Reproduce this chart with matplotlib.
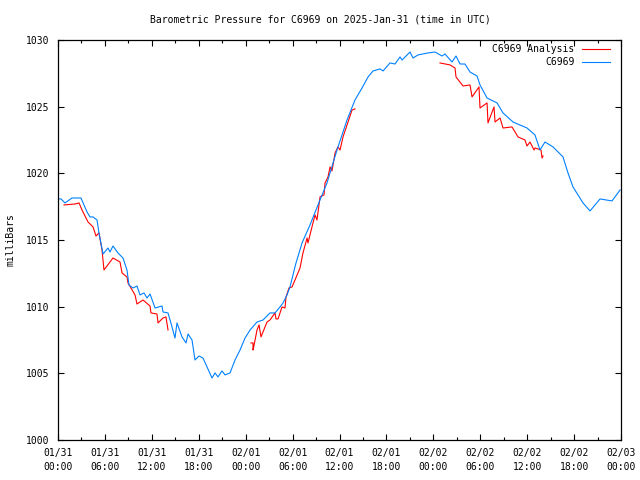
import matplotlib
matplotlib.use("Agg")
import matplotlib.pyplot as plt
from matplotlib.ticker import MultipleLocator

# hours since 2025-01-31 00:00 UTC
obs_hours = [0, 0.38, 0.90, 1.79, 2.94, 3.71, 4.09, 4.48, 4.99, 5.24, 5.76, 6.39, 6.65, 7.03,
             7.67, 8.31, 8.82, 9.08, 9.59, 10.10, 10.49, 11.00, 11.38, 11.77, 12.41, 13.30,
             13.43, 14.07, 14.58, 14.96, 15.22, 15.86, 16.37, 16.63, 17.14, 17.52, 18.03,
             18.54, 19.70, 20.08, 20.46, 20.97, 21.36, 22.00, 22.64, 23.28, 23.92, 24.56,
             25.45, 26.22, 27.11, 27.75, 28.39, 28.78, 29.29, 29.67, 30.40, 31.21, 32.23, 33.25,
             34.40, 35.68, 36.96, 37.98, 38.88, 39.65, 40.29, 41.18, 41.57, 42.46, 43.10,
             43.74, 44.00, 45.02, 45.40, 46.04, 47.32, 48.22, 49.11, 49.49, 50.39, 50.90,
             51.41, 52.05, 52.69, 53.59, 53.97, 54.87, 56.15, 56.91, 58.19, 59.98, 61.00,
             61.64, 62.28, 63.31, 64.58, 65.22, 65.86, 67.14, 68.04, 69.32, 70.85, 71.88]
obs_mb = [1018.08, 1018.08, 1017.78, 1018.15, 1018.15, 1017.10, 1016.73, 1016.73, 1016.50,
          1015.53, 1013.95, 1014.40, 1014.10, 1014.55, 1014.03, 1013.65, 1012.75, 1011.62,
          1011.40, 1011.55, 1010.88, 1011.03, 1010.65, 1010.95, 1009.90, 1010.05, 1009.60,
          1009.53, 1008.48, 1007.65, 1008.78, 1007.73, 1007.28, 1007.95, 1007.50, 1006.00,
          1006.30, 1006.15, 1004.65, 1005.03, 1004.73, 1005.18, 1004.88, 1005.03, 1006.00,
          1006.75, 1007.65, 1008.25, 1008.85, 1009.00, 1009.53, 1009.53, 1009.98, 1010.28,
          1010.88, 1011.48, 1013.20, 1014.78, 1016.13, 1017.63, 1019.28, 1021.75, 1024.00, 1025.50,
          1026.40, 1027.23, 1027.68, 1027.83, 1027.68, 1028.28, 1028.20, 1028.73, 1028.50,
          1029.10, 1028.65, 1028.88, 1029.03, 1029.10, 1028.80, 1028.95, 1028.35, 1028.80,
          1028.20, 1028.20, 1027.60, 1027.30, 1026.63, 1025.65, 1025.28, 1024.53, 1023.85,
          1023.40, 1022.88, 1021.75, 1022.35, 1021.98, 1021.23, 1020.03, 1018.98, 1017.78,
          1017.18, 1018.08, 1017.93, 1018.75]

# analysis segments (gaps between them)
ana1_hours = [0.77, 2.17, 2.69, 3.07, 3.84, 4.48, 4.86, 5.24, 5.63, 5.88, 7.03, 7.93, 8.19,
              8.82, 8.95, 9.85, 10.10, 10.87, 11.77, 11.89, 12.66, 12.79, 13.43, 13.81, 14.07]
ana1_mb = [1017.63, 1017.70, 1017.78, 1017.25, 1016.35, 1015.98, 1015.30, 1015.53, 1014.25,
           1012.75, 1013.65, 1013.35, 1012.53, 1012.23, 1011.78, 1010.88, 1010.20, 1010.50,
           1010.05, 1009.53, 1009.45, 1008.78, 1009.15, 1009.23, 1008.25]
ana2_hours = [24.68, 24.94, 24.94, 25.07, 25.45, 25.71, 25.96, 26.73, 27.11, 27.75, 27.88,
              28.14, 28.65, 29.03, 29.16, 29.54, 29.93, 30.31, 30.95, 31.33, 31.85, 31.97,
              32.48, 32.87, 33.12, 33.51, 34.02, 34.15, 34.53, 34.79, 35.04, 35.43, 35.81,
              36.07, 36.45, 37.09, 37.60, 37.98]
ana2_mb = [1007.28, 1007.28, 1006.75, 1007.10, 1008.25, 1008.63, 1007.73, 1008.85, 1009.00,
           1009.53, 1009.08, 1009.08, 1009.98, 1009.90, 1010.73, 1011.40, 1011.48, 1012.00,
           1012.90, 1014.03, 1015.15, 1014.78, 1015.98, 1016.88, 1016.50, 1018.23, 1018.38,
           1019.28, 1019.73, 1020.48, 1020.18, 1021.53, 1021.98, 1021.75, 1022.73, 1023.85,
           1024.75, 1024.83]
ana3_hours = [48.85, 50.13, 50.77, 50.90, 51.80, 52.69, 52.95, 53.84, 53.97, 54.87, 54.99,
              55.76, 55.89, 56.53, 56.91, 58.06, 58.83, 59.72, 59.98, 60.36, 60.88, 61.00,
              61.77, 61.90, 62.03]
ana3_mb = [1028.28, 1028.13, 1027.90, 1027.23, 1026.55, 1026.63, 1025.73, 1026.48, 1024.90,
           1025.28, 1023.78, 1024.98, 1023.85, 1024.15, 1023.40, 1023.48, 1022.73, 1022.50,
           1022.05, 1022.35, 1021.75, 1021.90, 1021.75, 1021.15, 1021.30]

tick_hours = list(range(0, 73, 6))
tick_labels = ["01/31\n00:00", "01/31\n06:00", "01/31\n12:00", "01/31\n18:00",
               "02/01\n00:00", "02/01\n06:00", "02/01\n12:00", "02/01\n18:00",
               "02/02\n00:00", "02/02\n06:00", "02/02\n12:00", "02/02\n18:00",
               "02/03\n00:00"]

plt.rcParams['font.family'] = ['DejaVu Sans Mono']
plt.rcParams['font.size'] = 7

fig = plt.figure(figsize=(6.4, 4.8), dpi=100)
ax = fig.add_axes([58/640, 1 - 440/480, (621-58)/640, 400/480])

red = '#ff0000'
blue = '#0080ff'
lw = 0.8
ax.plot(ana1_hours, ana1_mb, color=red, lw=lw, label='C6969 Analysis')
ax.plot(ana2_hours, ana2_mb, color=red, lw=lw)
ax.plot(ana3_hours, ana3_mb, color=red, lw=lw)
ax.plot(obs_hours, obs_mb, color=blue, lw=lw, label='C6969')

ax.set_xlim(0, 72)
ax.set_ylim(1000, 1030)
ax.set_xticks(tick_hours)
ax.set_xticklabels(tick_labels, linespacing=1.5)
ax.xaxis.set_minor_locator(MultipleLocator(3))
ax.set_yticks(range(1000, 1031, 5))
ax.tick_params(which='both', direction='in', top=True, right=True, labelsize=7)
ax.tick_params(which='major', length=4, width=0.8, pad=6)
ax.tick_params(which='minor', length=2, width=0.8)
for s in ax.spines.values():
    s.set_linewidth(0.9)

ax.set_ylabel('milliBars', fontsize=7, labelpad=8)
fig.text(0.5, 1 - 20/480, 'Barometric Pressure for C6969 on 2025-Jan-31 (time in UTC)',
         ha='center', va='center', fontsize=7)

ax.legend(loc='upper right', bbox_to_anchor=(0.98, 0.99), frameon=False,
          markerfirst=False, handlelength=2.9, fontsize=7, borderaxespad=0,
          borderpad=0, labelspacing=0.35, handletextpad=0.7)

fig.savefig('out.png', dpi=100)
